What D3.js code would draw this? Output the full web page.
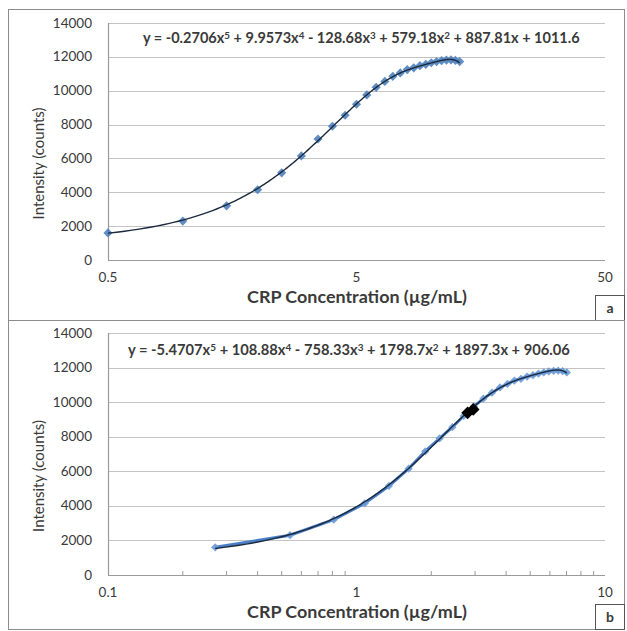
<!DOCTYPE html>
<html>
<head>
<meta charset="utf-8">
<script src="https://cdn.jsdelivr.net/npm/d3@7"></script>
<style>
  html, body { margin: 0; padding: 0; background: #fff; }
  svg { display: block; }
  text { font-family: Lato, "Open Sans", sans-serif; fill: #3a3a3a; }
</style>
</head>
<body>
<svg id="chart" width="627" height="631"></svg>
<script>
// Measured intensities (counts), shared by both calibration curves
const intensity = [1600, 2300, 3200, 4150, 5150, 6150, 7150, 7900, 8550, 9200,
                   9750, 10200, 10550, 10850, 11050, 11250, 11350, 11480, 11560, 11650,
                   11720, 11780, 11810, 11820, 11790, 11720];

// CRP concentrations (µg/mL) for panel a and panel b
const concA = [0.5, 1, 1.5, 2, 2.5, 3, 3.5, 4, 4.5, 5, 5.5, 6, 6.5, 7, 7.5, 8,
               8.5, 9, 9.5, 10, 10.5, 11, 11.5, 12, 12.5, 13];
const concB = [0.27, 0.54, 0.81, 1.08, 1.35, 1.62, 1.89, 2.16, 2.43, 2.7, 2.97,
               3.24, 3.51, 3.78, 4.05, 4.32, 4.59, 4.86, 5.13, 5.4, 5.67, 5.94,
               6.21, 6.48, 6.75, 7.02];

// Highlighted sample readings on panel b
const sampleConc = [2.8, 2.95];
const sampleIntensity = [9380, 9580];

// Fifth-order polynomial trendline coefficients (x^5 ... x^0)
const polyA = [-0.2706, 9.9573, -128.68, 579.18, 887.81, 1011.6];
const polyB = [-5.4707, 108.88, -758.33, 1798.7, 1897.3, 906.06];

// Axis settings
const yTicks = [0, 2000, 4000, 6000, 8000, 10000, 12000, 14000];
const xDomainA = [0.5, 50];
const xDomainB = [0.1, 10];
const xTicksA = [0.5, 5, 50];
const xTicksB = [0.1, 1, 10];
const panelLetters = ["a", "b"];

const svg = d3.select("#chart");

const panels = [
  { top: 9.5, bottom: 320.5, plotTop: 23, plotBottom: 260,
    conc: concA, poly: polyA, domain: xDomainA, ticks: xTicksA,
    letter: panelLetters[0], eqX: 143, eqW: 437, eqY: 43,
    line: false, minor: false, markColor: "#4f81bd", markSize: 42 },
  { top: 320.5, bottom: 629.5, plotTop: 333, plotBottom: 575,
    conc: concB, poly: polyB, domain: xDomainB, ticks: xTicksB,
    letter: panelLetters[1], eqX: 128, eqW: 442, eqY: 355,
    line: true, minor: true, markColor: "#6a9bd8", markSize: 34 }
];

const plotLeft = 108, plotRight = 605, panelLeft = 8.5, panelRight = 624.5;

function fitText(sel, width) {
  const node = sel.node();
  const fs = parseFloat(sel.attr("font-size"));
  const w = node.getComputedTextLength();
  if (w > 0) sel.attr("font-size", (fs * width / w).toFixed(2));
}

function polyEval(c, x) {
  return c.reduce((acc, k) => acc * x + k, 0);
}

panels.forEach(p => {
  const g = svg.append("g");

  // panel frame
  g.append("rect")
    .attr("x", panelLeft).attr("y", p.top)
    .attr("width", panelRight - panelLeft).attr("height", p.bottom - p.top)
    .attr("fill", "none").attr("stroke", "#8c8c8c").attr("stroke-width", 1);

  const x = d3.scaleLog().domain(p.domain).range([plotLeft, plotRight]);
  const y = d3.scaleLinear().domain([0, 14000]).range([p.plotBottom, p.plotTop]);

  // horizontal gridlines
  g.append("g").selectAll("line").data(yTicks.slice(1)).join("line")
    .attr("x1", plotLeft).attr("x2", plotRight)
    .attr("y1", d => Math.round(y(d)) + 0.5).attr("y2", d => Math.round(y(d)) + 0.5)
    .attr("stroke", "#c4c4c4").attr("stroke-width", 1.2);

  // axis lines
  g.append("line")
    .attr("x1", plotLeft + 0.5).attr("x2", plotLeft + 0.5)
    .attr("y1", p.plotTop).attr("y2", p.plotBottom)
    .attr("stroke", "#9a9a9a").attr("stroke-width", 1.2);
  g.append("line")
    .attr("x1", plotLeft).attr("x2", plotRight)
    .attr("y1", Math.round(p.plotBottom) + 0.5).attr("y2", Math.round(p.plotBottom) + 0.5)
    .attr("stroke", "#9a9a9a").attr("stroke-width", 1.2);

  // minor log ticks on the x axis
  if (p.minor) {
    const minors = x.ticks().filter(t => !p.ticks.some(m => Math.abs(m - t) < 1e-9));
    g.append("g").selectAll("line").data(minors).join("line")
      .attr("x1", d => x(d)).attr("x2", d => x(d))
      .attr("y1", p.plotBottom - 4).attr("y2", p.plotBottom)
      .attr("stroke", "#9a9a9a").attr("stroke-width", 1);
  }

  // y tick labels
  g.append("g").selectAll("text").data(yTicks).join("text")
    .attr("x", 92).attr("y", d => y(d) + 4.5)
    .attr("text-anchor", "end").attr("font-size", 13.5)
    .text(d => d);

  // x tick labels
  g.append("g").selectAll("text").data(p.ticks).join("text")
    .attr("x", d => x(d)).attr("y", p.plotBottom + 22)
    .attr("text-anchor", "middle").attr("font-size", 13.5)
    .text(d => d);

  // axis titles
  const xt = g.append("text")
    .attr("x", 357).attr("y", p.plotBottom + 43)
    .attr("text-anchor", "middle").attr("font-size", 15)
    .attr("font-weight", "bold").attr("fill", "#222")
    .text("CRP Concentration (µg/mL)");
  fitText(xt, 220);

  const yt = g.append("text")
    .attr("transform", `translate(44,${(p.plotTop + p.plotBottom) / 2 + 22}) rotate(-90)`)
    .attr("text-anchor", "middle").attr("font-size", 15)
    .attr("fill", "#222")
    .text("Intensity (counts)");
  fitText(yt, 112);

  // connecting line through the measured points
  const pts = p.conc.map((c, i) => [c, intensity[i]]);
  if (p.line) {
    g.append("path").datum(pts)
      .attr("d", d3.line().x(d => x(d[0])).y(d => y(d[1])))
      .attr("fill", "none").attr("stroke", "#4a7fc8").attr("stroke-width", 3);
  }

  // markers
  const diamond = d3.symbol().type(d3.symbolSquare).size(p.markSize);
  g.append("g").selectAll("path").data(pts).join("path")
    .attr("d", diamond)
    .attr("transform", d => `translate(${x(d[0])},${y(d[1])}) rotate(45)`)
    .attr("fill", p.markColor).attr("fill-opacity", 0.9);

  // polynomial trendline from the fitted equation
  const x0 = d3.min(p.conc), x1 = d3.max(p.conc);
  const curve = d3.range(0, 301).map(i => {
    const xv = x0 + (x1 - x0) * i / 300;
    return [xv, polyEval(p.poly, xv)];
  });
  g.append("path").datum(curve)
    .attr("d", d3.line().x(d => x(d[0])).y(d => y(d[1])))
    .attr("fill", "none").attr("stroke", "#1c2a3e").attr("stroke-width", 1.4);

  // equation label
  const eq = g.append("text")
    .attr("x", p.eqX).attr("y", p.eqY)
    .attr("font-size", 12).attr("font-weight", "bold").attr("fill", "#222");
  const deg = p.poly.length - 1;
  p.poly.forEach((c, i) => {
    const pow = deg - i;
    const lead = i === 0 ? "y = " + String(c) : (c < 0 ? " - " : " + ") + String(Math.abs(c));
    eq.append("tspan").text(lead + (pow > 0 ? "x" : ""));
    if (pow > 1) {
      eq.append("tspan")
        .attr("font-size", "68%")
        .attr("baseline-shift", "45%")
        .text(pow);
    }
  });
  fitText(eq, p.eqW);

  // highlighted samples on panel b
  if (p.line) {
    const sp = sampleConc.map((c, i) => [c, sampleIntensity[i]]);
    g.append("g").selectAll("path").data(sp).join("path")
      .attr("d", d3.symbol().type(d3.symbolSquare).size(80))
      .attr("transform", d => `translate(${x(d[0])},${y(d[1])}) rotate(45)`)
      .attr("fill", "#000");
  }

  // panel letter box
  g.append("rect")
    .attr("x", 595.5).attr("y", p.bottom - 25)
    .attr("width", panelRight - 595.5).attr("height", 25)
    .attr("fill", "#fff").attr("stroke", "#555").attr("stroke-width", 1);
  g.append("text")
    .attr("x", 610).attr("y", p.bottom - 7.5)
    .attr("text-anchor", "middle").attr("font-size", 14)
    .attr("font-weight", "bold").attr("fill", "#111")
    .text(p.letter);
});
</script>
</body>
</html>
